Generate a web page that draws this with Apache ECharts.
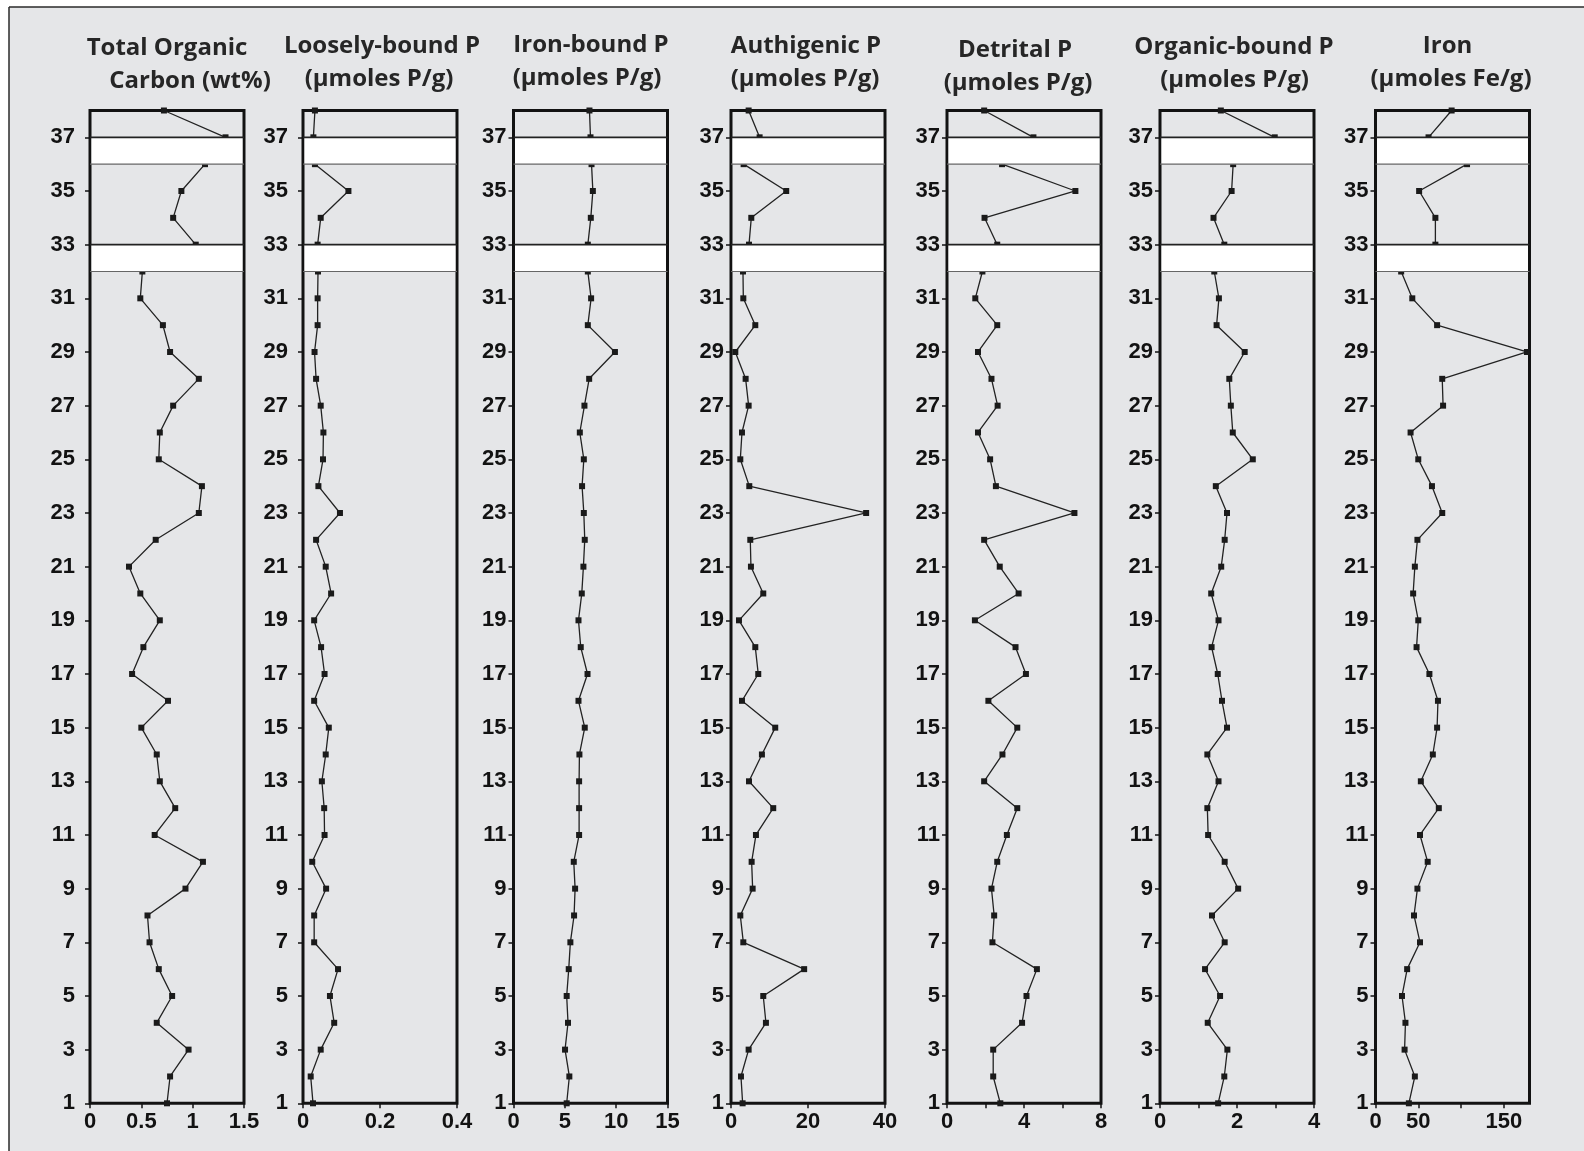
<!DOCTYPE html>
<html>
<head>
<meta charset="utf-8">
<script src="https://cdn.jsdelivr.net/npm/echarts@6/dist/echarts.min.js"></script>
<style>
  html, body { margin: 0; padding: 0; background: #ffffff; }
  #chart { width: 1584px; height: 1151px; }
</style>
</head>
<body>
<div id="chart"></div>
<script>
// Sediment core profiles: one sample per depth interval (38 at top, 1 at base)
const depths = [38, 37, 36, 35, 34, 33, 32, 31, 30, 29, 28, 27, 26, 25, 24, 23, 22, 21, 20,
                19, 18, 17, 16, 15, 14, 13, 12, 11, 10, 9, 8, 7, 6, 5, 4, 3, 2, 1];

const totalOrganicCarbon = [0.72, 1.32, 1.12, 0.89, 0.81, 1.03, 0.51, 0.49, 0.71, 0.78, 1.06, 0.81, 0.68,
                            0.67, 1.09, 1.06, 0.64, 0.38, 0.49, 0.68, 0.52, 0.41, 0.76, 0.50, 0.65, 0.68,
                            0.83, 0.63, 1.10, 0.93, 0.56, 0.58, 0.67, 0.80, 0.65, 0.96, 0.78, 0.75];

const looselyBoundP = [0.031, 0.027, 0.031, 0.118, 0.046, 0.038, 0.039, 0.038, 0.038, 0.030, 0.034, 0.046,
                       0.053, 0.052, 0.040, 0.096, 0.034, 0.059, 0.073, 0.029, 0.047, 0.056, 0.029, 0.067,
                       0.059, 0.049, 0.055, 0.056, 0.024, 0.060, 0.029, 0.029, 0.091, 0.070, 0.081, 0.046,
                       0.020, 0.026];

const ironBoundP = [7.40, 7.50, 7.60, 7.73, 7.53, 7.24, 7.24, 7.56, 7.24, 9.88, 7.37, 6.91, 6.46, 6.85,
                    6.68, 6.85, 6.94, 6.81, 6.65, 6.33, 6.55, 7.21, 6.33, 6.94, 6.42, 6.39, 6.39, 6.39,
                    5.87, 6.00, 5.90, 5.54, 5.38, 5.18, 5.31, 5.02, 5.44, 5.18];

const authigenicP = [4.58, 7.43, 3.28, 14.34, 5.27, 4.67, 3.11, 3.20, 6.31, 1.12, 3.80, 4.58, 2.85, 2.42,
                     4.75, 35.1, 5.01, 5.18, 8.38, 2.07, 6.31, 7.08, 2.85, 11.49, 8.03, 4.67, 10.97, 6.48,
                     5.36, 5.62, 2.42, 3.20, 19.0, 8.38, 9.07, 4.58, 2.59, 3.02];

const detritalP = [1.93, 4.49, 2.86, 6.67, 1.95, 2.61, 1.84, 1.47, 2.61, 1.61, 2.31, 2.63, 1.61, 2.24,
                   2.54, 6.62, 1.93, 2.74, 3.72, 1.45, 3.56, 4.10, 2.15, 3.65, 2.88, 1.93, 3.65, 3.11,
                   2.61, 2.31, 2.45, 2.36, 4.67, 4.13, 3.90, 2.40, 2.40, 2.77];

const organicBoundP = [1.58, 2.98, 1.90, 1.86, 1.39, 1.67, 1.41, 1.53, 1.47, 2.20, 1.80, 1.84, 1.89, 2.41,
                       1.45, 1.74, 1.68, 1.59, 1.33, 1.52, 1.34, 1.50, 1.61, 1.74, 1.23, 1.52, 1.23, 1.25,
                       1.68, 2.03, 1.35, 1.68, 1.17, 1.56, 1.24, 1.75, 1.67, 1.51];

const ironFe = [89, 62, 107, 51, 70, 70, 30, 43, 72, 177, 78, 79, 41, 50, 66, 78, 49, 46, 44, 50, 48, 63,
                73, 72, 67, 53, 74, 52, 61, 49, 45, 52, 37, 31, 35, 34, 46, 39];

// Depth intervals with no recovered core
const coreGaps = [[36, 37], [32, 33]];

// Axis ticks and labels
const depthTicks = [1, 3, 5, 7, 9, 11, 13, 15, 17, 19, 21, 23, 25, 27, 29, 31, 33, 35, 37];
const xMaxima = [1.5, 0.4, 15, 40, 8, 4, 180];
const xTicks = [[0, 0.5, 1, 1.5], [0, 0.2, 0.4], [0, 5, 10, 15], [0, 20, 40], [0, 2, 4, 6, 8],
                [0, 1, 2, 3, 4], [0, 50, 100, 150]];
const xTickLabels = [[0, 0.5, 1, 1.5], [0, 0.2, 0.4], [0, 5, 10, 15], [0, 20, 40], [0, 4, 8],
                     [0, 2, 4], [0, 50, 150]];

const titleLines = [
  ['Total Organic', 'Carbon (wt%)'],
  ['Loosely-bound P', '(\u00b5moles P/g)'],
  ['Iron-bound P', '(\u00b5moles P/g)'],
  ['Authigenic P', '(\u00b5moles P/g)'],
  ['Detrital P', '(\u00b5moles P/g)'],
  ['Organic-bound P', '(\u00b5moles P/g)'],
  ['Iron', '(\u00b5moles Fe/g)']
];

const profiles = [totalOrganicCarbon, looselyBoundP, ironBoundP, authigenicP, detritalP, organicBoundP, ironFe];

// ---- layout ----
const panelLeft = [90, 303, 513.5, 731, 947, 1160, 1375.5];
const panelWidth = 154;
const plotTop = 110.5;
const plotBottom = 1103.3;
const yLabelGap = [15, 15, 7, 7, 7, 7, 7];
const titleX = [[167, 190], [382, 379], [591, 587], [806, 805], [1015, 1018], [1234, 1234.5], [1447.6, 1451]];
const titleY = [[48, 81], [46.5, 79], [45.5, 78.5], [46.5, 79], [50.5, 83], [47.5, 80], [46.5, 79]];

const ink = '#121212';
const labelFont = { fontFamily: 'Arial, "Liberation Sans", sans-serif', fontWeight: 'bold', fontSize: 22, color: ink };

const grids = [], xAxes = [], yAxes = [], series = [], graphics = [];

// page frame: white margin, then a grey sheet with a dark rule on top and left
graphics.push(
  { type: 'rect', shape: { x: 0, y: 0, width: 1584, height: 7 }, style: { fill: '#ffffff' }, silent: true },
  { type: 'rect', shape: { x: 0, y: 0, width: 9, height: 1151 }, style: { fill: '#ffffff' }, silent: true },
  { type: 'line', shape: { x1: 9, y1: 7, x2: 1584, y2: 7 }, style: { stroke: '#2a2a2a', lineWidth: 1.5 }, silent: true },
  { type: 'line', shape: { x1: 9, y1: 7, x2: 9, y2: 1151 }, style: { stroke: '#2a2a2a', lineWidth: 1.5 }, silent: true }
);

profiles.forEach((values, i) => {
  grids.push({
    left: panelLeft[i], top: plotTop, width: panelWidth, height: plotBottom - plotTop,
    show: true, borderColor: ink, borderWidth: 3, backgroundColor: 'transparent',
    outerBoundsMode: 'none', containLabel: false
  });
  xAxes.push({
    gridIndex: i, type: 'value', min: 0, max: xMaxima[i],
    axisLine: { show: false },
    splitLine: { show: false },
    axisTick: { show: true, length: 5, lineStyle: { color: ink, width: 1.5 }, customValues: xTicks[i] },
    axisLabel: Object.assign({ margin: 8, customValues: xTickLabels[i] }, labelFont)
  });
  yAxes.push({
    gridIndex: i, type: 'value', min: 1, max: 38,
    axisLine: { show: false },
    splitLine: { show: false },
    axisTick: { show: true, length: 5, lineStyle: { color: ink, width: 1.5 }, customValues: depthTicks },
    axisLabel: Object.assign({ margin: yLabelGap[i], customValues: depthTicks }, labelFont)
  });
  series.push({
    type: 'line', xAxisIndex: i, yAxisIndex: i, z: 2,
    data: values.map((v, k) => [v, depths[k]]),
    symbol: 'rect', symbolSize: 6, showSymbol: true, clip: false,
    itemStyle: { color: '#1a1a1a' },
    lineStyle: { color: '#222222', width: 1.3 },
    emphasis: { disabled: true },
    animation: false
  });
  // blank bands for the unrecovered intervals, drawn over the profile
  series.push({
    type: 'custom', xAxisIndex: i, yAxisIndex: i, z: 4,
    data: coreGaps.map(g => [0, g[0], g[1]]),
    encode: { x: 0, y: [1, 2] },
    renderItem: (params, api) => {
      const cs = params.coordSys;
      const yHi = api.coord([0, api.value(2)])[1];
      const yLo = api.coord([0, api.value(1)])[1];
      return {
        type: 'group',
        children: [
          { type: 'rect', shape: { x: cs.x + 1.5, y: yHi, width: cs.width - 3, height: yLo - yHi },
            style: { fill: '#ffffff' } },
          { type: 'line', shape: { x1: cs.x, y1: yHi, x2: cs.x + cs.width, y2: yHi },
            style: { stroke: '#222222', lineWidth: 1.6 } },
          { type: 'line', shape: { x1: cs.x, y1: yLo, x2: cs.x + cs.width, y2: yLo },
            style: { stroke: '#666666', lineWidth: 1.1 } }
        ]
      };
    },
    silent: true,
    animation: false
  });
  titleLines[i].forEach((line, j) => {
    graphics.push({
      type: 'text', x: titleX[i][j], y: titleY[i][j], silent: true,
      style: {
        text: line, fill: '#262626',
        font: 'bold 24px "Open Sans", "Noto Sans", sans-serif',
        textAlign: 'center', textVerticalAlign: 'middle'
      }
    });
  });
});

const chart = echarts.init(document.getElementById('chart'), null, { renderer: 'canvas' });
chart.setOption({
  backgroundColor: '#e5e6e8',
  animation: false,
  grid: grids,
  xAxis: xAxes,
  yAxis: yAxes,
  series: series,
  graphic: graphics
});
</script>
</body>
</html>
